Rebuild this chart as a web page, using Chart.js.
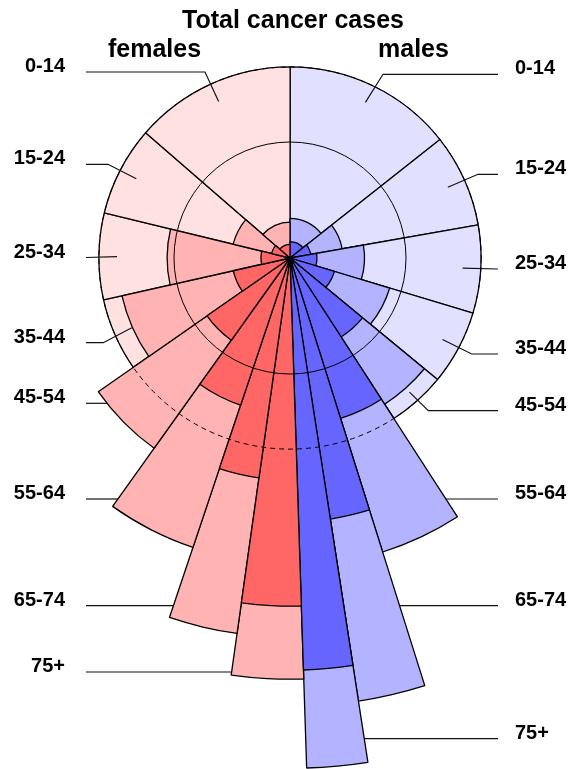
<!DOCTYPE html>
<html><head><meta charset="utf-8">
<script src="https://cdn.jsdelivr.net/npm/chart.js@4.4.1/dist/chart.umd.min.js"></script>
<style>html,body{margin:0;padding:0;background:#fff;overflow:hidden}#wrap{position:relative;width:575px;height:769px}</style>
</head><body><div id="wrap"><canvas id="c"></canvas></div>
<script>
// ---------------- data ----------------
const ageGroups = ['0-14', '15-24', '25-34', '35-44', '45-54', '55-64', '65-74', '75+'];
// share of the total population (%) -> angular width of each wedge
const malePopShare   = [14.36, 7.86, 7.44, 6.31, 4.89, 4.28, 2.42, 1.92];
const femalePopShare = [13.64, 7.58, 7.31, 6.17, 5.44, 4.72, 2.92, 2.75];
// radial values (population ring = 100)
const malePopulation   = [100, 100, 100, 100, 100, 100, 100, 100];
const femalePopulation = [100, 100, 100, 100, 100, 100, 100, 100];
const maleCases     = [20.7, 27.7, 39.0, 54.5, 91.1, 161.3, 234.6, 267.0];
const femaleCases   = [18.8, 30.6, 64.3, 90.1, 122.3, 159.7, 198.4, 220.4];
const maleDeaths    = [8.6, 11.0, 14.1, 24.3, 49.2, 88.0, 138.2, 215.7];
const femaleDeaths  = [7.1, 9.9, 15.2, 30.4, 52.9, 81.2, 116.2, 182.2];
const referenceRings = [0, 60.7, 100];
const titleText = 'Total cancer cases';
const sexLabels = ['females', 'males'];

// ---------------- layout / style (not data) ----------------
const labelLayout = {
  female: [
    {lineY: 72, elbowX: 205, r: 90},
    {lineY: 164.3, elbowX: 108, r: 90.5},
    {lineY: 257.5, r: 90.5},
    {lineY: 342.7, elbowX: 103.3, r: 90.5},
    {lineY: 403.3},
    {lineY: 499},
    {lineY: 605.7},
    {lineY: 672}
  ],
  male: [
    {lineY: 74.3, elbowX: 383, r: 90.5},
    {lineY: 174.3, elbowX: 478, r: 90.5},
    {lineY: 269, r: 90.5},
    {lineY: 354, elbowX: 471.7, r: 90.5},
    {lineY: 410.7, elbowX: 428.3, r: 94},
    {lineY: 499},
    {lineY: 605.7},
    {lineY: 738.7}
  ]
};
const COL = {
  male:   ['#6666ff', '#b3b3ff', '#e1e1ff'],
  female: ['#ff6666', '#ffb3b3', '#ffe1e1']
};

// polar order: males clockwise from top, then females (reversed) back to top
const rev = a => a.slice().reverse();
const labels = ageGroups.map(a => 'males ' + a).concat(rev(ageGroups).map(a => 'females ' + a));
const angles = malePopShare.concat(rev(femalePopShare)).map(p => p * 3.6);
const colorsFor = layer => ageGroups.map(() => COL.male[layer]).concat(ageGroups.map(() => COL.female[layer]));

function makeSet(label, m, f, layer) {
  return {
    label,
    data: m.concat(rev(f)),
    backgroundColor: colorsFor(layer),
    borderColor: '#000',
    borderWidth: 1.3,
    angle: ctx => angles[ctx.dataIndex],
    clip: false
  };
}

const FONT = '"Liberation Sans", Arial, Helvetica, sans-serif';

const annotate = {
  id: 'annotate',
  afterDraw(chart) {
    const ctx = chart.ctx;
    const s = chart.scales.r;
    const cx = s.xCenter, cy = s.yCenter;
    ctx.save();
    ctx.fillStyle = '#000';
    ctx.textBaseline = 'alphabetic';
    ctx.font = 'bold 25px ' + FONT;
    ctx.textAlign = 'center';
    ctx.fillText(titleText, 293, 28);
    ctx.textAlign = 'left';
    ctx.fillText(sexLabels[0], 108, 57);
    ctx.fillText(sexLabels[1], 378, 57);

    function wedge(idx) {
      const els = [0, 1, 2].map(d => chart.getDatasetMeta(d).data[idx].getProps(['startAngle', 'endAngle', 'outerRadius'], true));
      return {start: els[0].startAngle, end: els[0].endAngle, R: Math.max.apply(null, els.map(e => e.outerRadius))};
    }
    function inside(w, x, y) {
      const dx = x - cx, dy = y - cy;
      if (Math.hypot(dx, dy) > w.R) return false;
      let a = Math.atan2(dy, dx);
      while (a < w.start) a += Math.PI * 2;
      while (a > w.start + Math.PI * 2) a -= Math.PI * 2;
      return a <= w.end;
    }
    ctx.strokeStyle = '#111';
    ctx.lineWidth = 1.2;
    ctx.font = 'bold 20px ' + FONT;
    ['female', 'male'].forEach(side => {
      const left = side === 'female';
      const xStart = left ? 86 : 498;
      ageGroups.forEach((age, i) => {
        const L = labelLayout[side][i];
        const idx = left ? 15 - i : i;
        const w = wedge(idx);
        ctx.beginPath();
        ctx.moveTo(xStart, L.lineY);
        if (L.r !== undefined) {
          const mid = (w.start + w.end) / 2;
          const rr = s.getDistanceFromCenterForValue(L.r);
          const ex = cx + rr * Math.cos(mid), ey = cy + rr * Math.sin(mid);
          if (L.elbowX !== undefined) ctx.lineTo(L.elbowX, L.lineY);
          ctx.lineTo(ex, ey);
        } else {
          let x = xStart;
          const step = left ? 0.25 : -0.25;
          while (Math.abs(x - cx) > 1 && !inside(w, x, L.lineY)) x += step;
          ctx.lineTo(x, L.lineY);
        }
        ctx.stroke();
        ctx.textAlign = left ? 'right' : 'left';
        ctx.fillText(age, left ? 65 : 515, L.lineY);
      });
    });
    ctx.restore();
  }
};

new Chart(document.getElementById('c'), {
  type: 'polarArea',
  data: {
    labels,
    datasets: [
      makeSet('deaths', maleDeaths, femaleDeaths, 0),
      makeSet('cases', maleCases, femaleCases, 1),
      makeSet('population', malePopulation, femalePopulation, 2)
    ]
  },
  options: {
    responsive: true,
    maintainAspectRatio: false,
    animation: false,
    events: [],
    layout: {padding: {left: 5, right: 0, top: 0, bottom: 253}},
    plugins: {legend: {display: false}, title: {display: false}, tooltip: {enabled: false}},
    scales: {
      r: {
        min: 0,
        max: 135,
        startAngle: 0,
        ticks: {display: false},
        pointLabels: {display: false},
        angleLines: {display: false},
        grid: {circular: true, color: '#000', lineWidth: 1, z: 1},
        border: {dash: c => (c.index === 2 ? [5, 4] : [])},
        afterBuildTicks: sc => { sc.ticks = referenceRings.map(v => ({value: v})); }
      }
    }
  },
  plugins: [annotate]
});
</script>
</body></html>
